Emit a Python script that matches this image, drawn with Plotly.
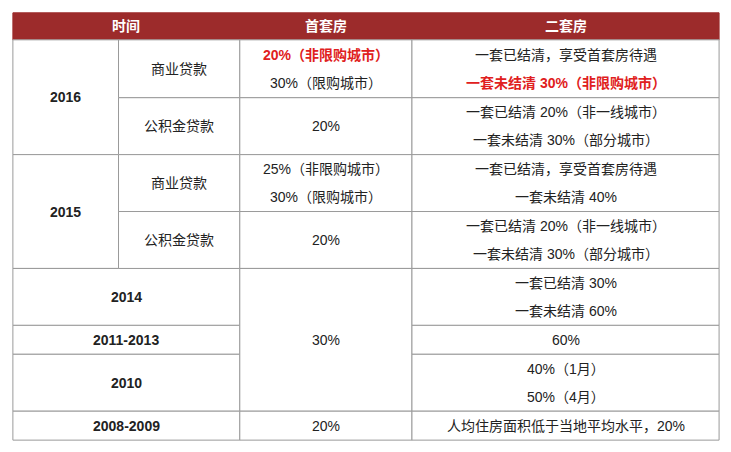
import plotly.graph_objects as go

headers = ["时间", "首套房", "二套房"]
years = ["2016", "2015", "2014", "2011-2013", "2010", "2008-2009"]
loan_types = ["商业贷款", "公积金贷款", "商业贷款", "公积金贷款"]
first_home = [["20%（非限购城市）", "30%（限购城市）"], ["20%"],
              ["25%（非限购城市）", "30%（限购城市）"], ["20%"], ["30%"], ["20%"]]
second_home = [["一套已结清，享受首套房待遇", "一套未结清 30%（非限购城市）"],
               ["一套已结清 20%（非一线城市）", "一套未结清 30%（部分城市）"],
               ["一套已结清，享受首套房待遇", "一套未结清 40%"],
               ["一套已结清 20%（非一线城市）", "一套未结清 30%（部分城市）"],
               ["一套已结清 30%", "一套未结清 60%"], ["60%"],
               ["40%（1月）", "50%（4月）"], ["人均住房面积低于当地平均水平，20%"]]
red_lines = {"20%（非限购城市）", "一套未结清 30%（非限购城市）"}

# layout geometry (pixels)
X = [5, 113, 237, 413, 727]
HEAD = (5, 33)
R = [33, 93, 152, 211, 270, 329, 359, 418, 448]
first_rows = [(R[0], R[1]), (R[1], R[2]), (R[2], R[3]), (R[3], R[4]), (R[4], R[7]), (R[7], R[8])]
year_rows = [(R[0], R[2], False), (R[2], R[4], False), (R[4], R[5], True), (R[5], R[6], True),
             (R[6], R[7], True), (R[7], R[8], True)]

FONT = "Arial, Noto Sans CJK SC"
fig = go.Figure()
shapes, anns = [], []
line = dict(color="#9a9a9a", width=1)

def rect(x0, x1, y0, y1, fill="white"):
    shapes.append(dict(type="rect", x0=x0, x1=x1, y0=y0, y1=y1, fillcolor=fill, line=line, layer="below"))

def text(xc, y0, y1, lines, bold=False, color="#222", size=14):
    n = len(lines)
    step = 29 if n > 1 else 0
    start = (y0 + y1) / 2 - step * (n - 1) / 2
    for i, t in enumerate(lines):
        red = t in red_lines
        b = bold or red
        anns.append(dict(x=xc, y=start + i * step, text=f"<b>{t}</b>" if b else t, showarrow=False,
                         font=dict(family=FONT, size=size, color="#e02020" if red else color),
                         xanchor="center", yanchor="middle"))

shapes.append(dict(type="rect", x0=X[0], x1=X[4], y0=HEAD[0], y1=HEAD[1], fillcolor="#9c2b2b",
                   line=dict(color="#9c2b2b", width=1), layer="below"))
text((X[0] + X[2]) / 2, *HEAD, [headers[0]], bold=True, color="white")
text((X[2] + X[3]) / 2, *HEAD, [headers[1]], bold=True, color="white")
text((X[3] + X[4]) / 2, *HEAD, [headers[2]], bold=True, color="white")

for (y0, y1, span), yr in zip(year_rows, years):
    x1 = X[2] if span else X[1]
    rect(X[0], x1, y0, y1)
    text((X[0] + x1) / 2, y0, y1, [yr], bold=True)
for i, lt in enumerate(loan_types):
    rect(X[1], X[2], R[i], R[i + 1])
    text((X[1] + X[2]) / 2, R[i], R[i + 1], [lt])
for (y0, y1), lines in zip(first_rows, first_home):
    rect(X[2], X[3], y0, y1)
    text((X[2] + X[3]) / 2, y0, y1, lines)
for i, lines in enumerate(second_home):
    rect(X[3], X[4], R[i], R[i + 1])
    text((X[3] + X[4]) / 2, R[i], R[i + 1], lines)

fig.update_layout(width=715, height=436, margin=dict(l=0, r=0, t=0, b=0),
                  paper_bgcolor="white", plot_bgcolor="white", shapes=shapes, annotations=anns,
                  xaxis=dict(range=[0, 731], visible=False, fixedrange=True),
                  yaxis=dict(range=[452, 0], visible=False, fixedrange=True), showlegend=False)
fig.write_html("out.html")
